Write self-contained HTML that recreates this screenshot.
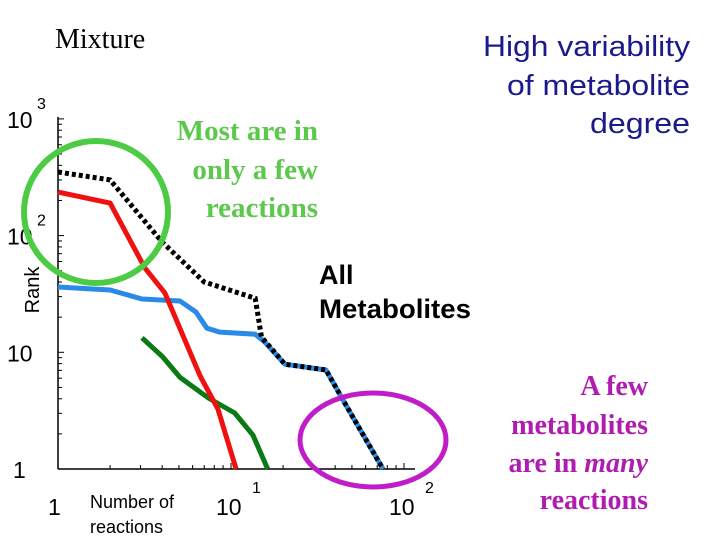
<!DOCTYPE html>
<html><head><meta charset="utf-8"><style>
html,body{margin:0;padding:0;background:#fff;}
svg{display:block;}
</style></head><body>
<svg id="chart" width="720" height="540" viewBox="0 0 720 540" xmlns="http://www.w3.org/2000/svg">
<g id="axes"></g>
<g id="series"></g>
<ellipse cx="96" cy="212" rx="72" ry="71" fill="none" stroke="#4ccc44" stroke-width="6"/>
<ellipse cx="373" cy="440" rx="73" ry="47" fill="none" stroke="#c01cc8" stroke-width="5"/>
<text x="55" y="48" font-family="Liberation Serif, serif" font-size="28">Mixture</text>
<g font-family="Liberation Sans, sans-serif" font-size="29" fill="#1a1a8c">
<text x="483" y="56" textLength="207" lengthAdjust="spacingAndGlyphs">High variability</text><text x="507" y="95" textLength="183" lengthAdjust="spacingAndGlyphs">of metabolite</text><text x="590" y="133" textLength="100" lengthAdjust="spacingAndGlyphs">degree</text></g>
<g font-family="Liberation Serif, serif" font-weight="bold" font-size="29" fill="#5cc84c" text-anchor="end">
<text x="318" y="140">Most are in</text><text x="318" y="179">only a few</text><text x="318" y="217">reactions</text></g>
<g font-family="Liberation Sans, sans-serif" font-weight="bold" font-size="27" fill="#000">
<text x="319" y="284">All</text><text x="319" y="318" textLength="152" lengthAdjust="spacingAndGlyphs">Metabolites</text></g>
<g font-family="Liberation Serif, serif" font-weight="bold" font-size="28" fill="#b01cb0" text-anchor="end">
<text x="648" y="395">A few</text><text x="648" y="434">metabolites</text><text x="648" y="472">are in <tspan font-style="italic">many</tspan></text><text x="648" y="509">reactions</text></g>
<text transform="translate(39,290) rotate(-90)" text-anchor="middle" font-family="Liberation Sans, sans-serif" font-size="20">Rank</text>
<g font-family="Liberation Sans, sans-serif" font-size="18"><text x="90" y="508">Number of</text><text x="90" y="533">reactions</text></g>
</svg>
<script>
const x0=58, xDec=173, y0=469, yDec=116.7;
const xTickExp=[0,1,2];
const yTickExp=[0,1,2,3];
const allX=[1,2,4,7,13.8,15,20.5,35.4,48.7,75.6];
const allY=[351,300,88,40,29,13.5,7.9,7.05,3.08,1];
const redX=[1,2,3.18,4.15,6.62,8.4,10.7];
const redY=[236,190,52.8,32.2,6.3,3.27,1];
const blueX=[1,2,3.06,5.07,6.28,7.26,8.6,13.8,15.7,20.5,35.4,48.7,75.6];
const blueY=[36.3,34.2,28.6,27.5,22.1,16.1,14.9,14.3,12.2,7.9,7.05,3.08,1];
const greenX=[3.06,4.04,5.07,7.4,10.5,13.4,16.3];
const greenY=[13.3,9.1,6.1,4.06,3.02,1.95,1];
function sx(v){return x0+Math.log10(v)*xDec;}
function sy(v){return y0-Math.log10(v)*yDec;}
const NS='http://www.w3.org/2000/svg';
const axes=document.getElementById('axes');
const series=document.getElementById('series');
function mk(tag,attrs,parent){const e=document.createElementNS(NS,tag);for(const k in attrs)e.setAttribute(k,attrs[k]);parent.appendChild(e);return e;}
const xa=mk('line',{x1:x0,y1:y0,x2:415,y2:y0,stroke:'#000','stroke-width':1.5},axes);


const ya=mk('line',{x1:x0,y1:y0,x2:x0,y2:sy(1000)-2,stroke:'#000','stroke-width':1.5},axes);


for(let d=0;d<3;d++){for(let m=1;m<10;m++){const v=m*Math.pow(10,d);const px=sx(v);if(px>415)continue;
const t=mk('line',{x1:px,y1:y0,x2:px,y2:y0-(m===1?6:4),stroke:'#000','stroke-width':1},axes);

}}
for(let d=0;d<3;d++){for(let m=1;m<10;m++){const v=m*Math.pow(10,d);const py=sy(v);
const t=mk('line',{x1:x0,y1:py,x2:x0+(m===1?6:4),y2:py,stroke:'#000','stroke-width':1},axes);

}}
const tl=mk('line',{x1:x0,y1:sy(1000),x2:x0+6,y2:sy(1000),stroke:'#000'},axes);


const font='Liberation Sans, sans-serif';
yTickExp.forEach(e=>{const py=sy(Math.pow(10,e));
 const t=mk('text',{x:e===0?13:7,y:py+9,'font-family':font,'font-size':23},axes);t.textContent=e===0?'1':'10';
 
 
 if(e>=2){const s=mk('text',{x:37,y:py-10,'font-family':font,'font-size':16},axes);s.textContent=String(e);
 
 }
});
xTickExp.forEach(e=>{const px=sx(Math.pow(10,e));
 const t=mk('text',{x:e===0?px-10:px-15,y:515,'font-family':font,'font-size':23},axes);t.textContent=e===0?'1':'10';
 
 
 if(e>=1){const s=mk('text',{x:px+21,y:493,'font-family':font,'font-size':16},axes);s.textContent=String(e);
 
 }
});
function pts(X,Y){return X.map((v,i)=>sx(v).toFixed(1)+','+sy(Y[i]).toFixed(1)).join(' ');}
const g=mk('polyline',{points:pts(greenX,greenY),fill:'none',stroke:'#0a7a14','stroke-width':5,'stroke-linejoin':'round'},series);


const b=mk('polyline',{points:pts(blueX,blueY),fill:'none',stroke:'#2a8ae8','stroke-width':5,'stroke-linejoin':'round'},series);


const r=mk('polyline',{points:pts(redX,redY),fill:'none',stroke:'#f01010','stroke-width':5,'stroke-linejoin':'round'},series);


const a=mk('polyline',{points:pts(allX,allY),fill:'none',stroke:'#000','stroke-width':5,'stroke-dasharray':'4 3'},series);


</script>
</body></html>
